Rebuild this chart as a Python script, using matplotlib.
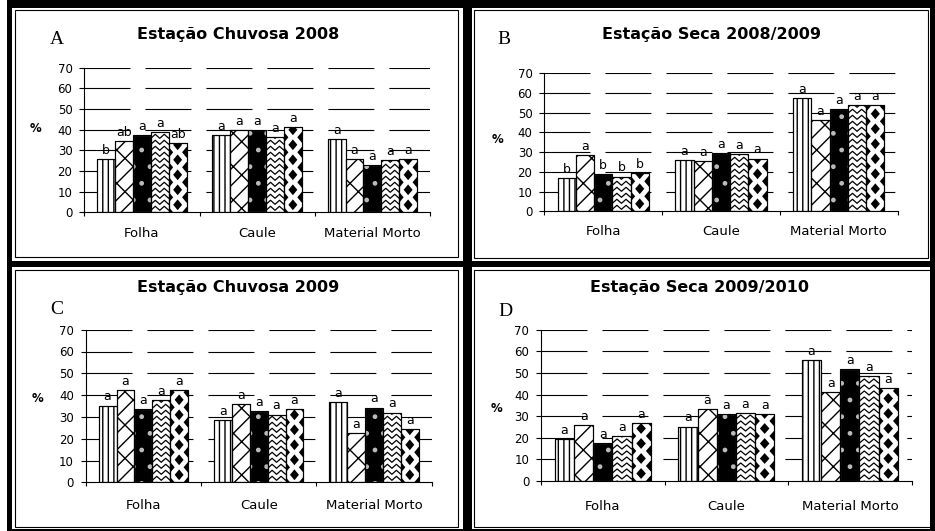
import numpy as np
import matplotlib
matplotlib.use("Agg")
import matplotlib.pyplot as plt
from matplotlib.patches import Rectangle, Polygon
from matplotlib.lines import Line2D

W, H = 935, 531

categorias = ["Folha", "Caule", "Material Morto"]
titulos = ["Estação Chuvosa 2008", "Estação Seca 2008/2009",
           "Estação Chuvosa 2009", "Estação Seca 2009/2010"]
letras_painel = ["A", "B", "C", "D"]

# % de cada componente (Folha, Caule, Material Morto) nos 5 tratamentos
chuvosa_2008 = [[26.0, 34.5, 37.4, 38.7, 33.4],
                [37.6, 39.7, 40.0, 36.5, 41.3],
                [35.3, 25.6, 22.9, 25.2, 25.6]]
seca_2008_09 = [[16.8, 28.3, 18.8, 17.6, 19.3],
                [26.1, 25.5, 29.4, 28.8, 26.7],
                [57.2, 46.0, 51.6, 53.8, 53.8]]
chuvosa_2009 = [[35.2, 42.2, 33.8, 37.8, 42.5],
                [28.5, 35.8, 32.6, 31.1, 33.8],
                [36.7, 22.4, 34.3, 32.0, 24.5]]
seca_2009_10 = [[19.5, 25.7, 17.5, 20.6, 26.7],
                [25.2, 33.5, 30.9, 31.5, 30.9],
                [55.8, 41.2, 51.8, 48.5, 42.9]]

# letras do teste de médias
letras_a = [["b", "ab", "a", "a", "ab"], ["a"] * 5, ["a"] * 5]
letras_b = [["b", "a", "b", "b", "b"], ["a"] * 5, ["a"] * 5]
letras_c = [["a"] * 5, ["a"] * 5, ["a"] * 5]
letras_d = [["a"] * 5, ["a"] * 5, ["a"] * 5]

dados = [chuvosa_2008, seca_2008_09, chuvosa_2009, seca_2009_10]
letras = [letras_a, letras_b, letras_c, letras_d]

# layout em pixels: (esq, topo(y=70), dir, base(y=0))
eixos_px = [(84.3, 67.7, 430.0, 212.3), (544.3, 73.0, 897.7, 211.3),
            (85.7, 329.7, 431.7, 482.3), (541.0, 329.7, 911.7, 481.0)]
titulo_px = [(238, 39), (711, 39), (238, 292), (700, 292)]
letra_px = [(50, 39), (497, 39), (50, 309), (498, 312)]
pct_px = [(36, 128.5), (498, 139), (37, 399), (497, 408)]
pad_cat = [10.9, 10.2, 11.9, 14.0]

plt.rcParams["lines.scale_dashes"] = False
plt.rcParams["hatch.linewidth"] = 1.0

LARG = 0.155


def fx(x):
    return x / W


def fy(y):
    return 1 - y / H


def zigzag(ax, bar):
    x0, y0, x1, y1 = bar.get_window_extent().extents
    passo = (x1 - x0) / 4
    inv = ax.transData.inverted()
    xs = np.arange(x0 - passo, x1 + 2 * passo, passo)
    sinal = np.where(np.arange(len(xs)) % 2 == 0, 2.0, -2.0)
    for yb in np.arange(y0 - 2, y1 + 6, 6.0):
        pts = inv.transform(np.column_stack([xs, yb + sinal]))
        ln = Line2D(pts[:, 0], pts[:, 1], color="black", lw=0.9, zorder=2.1)
        ax.add_line(ln)
        ln.set_clip_path(bar)


def losangos(ax, bar):
    x0, y0, x1, y1 = bar.get_window_extent().extents
    dx = (x1 - x0) / 2
    p = 15.0
    hw, hh = dx * 0.5, p * 0.36
    inv = ax.transData.inverted()
    for i in range(3):
        cx = x0 + i * dx
        off = (i % 2) * p / 2
        for cy in np.arange(y0 + off, y1 + p, p):
            verts = [(cx - hw, cy), (cx, cy + hh), (cx + hw, cy), (cx, cy - hh)]
            poly = Polygon(inv.transform(verts), closed=True, fc="black",
                           ec="none", zorder=2.1)
            ax.add_patch(poly)
            poly.set_clip_path(bar)


fig = plt.figure(figsize=(W / 100, H / 100), dpi=100)
fig.patch.set_facecolor("white")

x = np.arange(len(categorias))
for k in range(4):
    l, t, r, b = eixos_px[k]
    ax = fig.add_axes([fx(l), fy(b), (r - l) / W, (b - t) / H])
    ax.set_xlim(-0.5, 2.5)
    ax.set_ylim(0, 70)
    ax.set_facecolor("none")
    for s in ("top", "right"):
        ax.spines[s].set_visible(False)
    for s in ("left", "bottom"):
        ax.spines[s].set_linewidth(0.8)
    ax.set_yticks(range(0, 80, 10))
    ax.tick_params(axis="y", labelsize=8.5, length=3.5, width=0.8, pad=5)
    ax.set_xticks(x)
    ax.set_xticklabels(categorias, fontsize=9.5)
    ax.tick_params(axis="x", which="major", length=0, pad=pad_cat[k])
    ax.set_xticks([-0.5, 0.5, 1.5, 2.5], minor=True)
    ax.tick_params(axis="x", which="minor", length=3, width=0.8)
    ax.hlines(range(10, 80, 10), -0.5, 2.5, colors="black", linewidth=0.8,
              linestyles=(0, (33.1, 10.8)), zorder=1)

    vals = np.array(dados[k])  # categorias x tratamentos
    for j in range(5):
        xs = x + (j - 2) * LARG
        if j == 0:
            bars = ax.bar(xs, vals[:, j], LARG, color="white", edgecolor="black",
                          hatch="|||", linewidth=0.8, zorder=2)
        elif j == 1:
            bars = ax.bar(xs, vals[:, j], LARG, color="white", edgecolor="black",
                          hatch="//\\", linewidth=0.8, zorder=2)
        elif j == 2:
            bars = ax.bar(xs, vals[:, j], LARG, color="black", edgecolor="#bbbbbb",
                          hatch=".", linewidth=0.8, zorder=2)
        else:
            bars = ax.bar(xs, vals[:, j], LARG, color="white", edgecolor="black",
                          linewidth=0.8, zorder=2)
            for bar in bars:
                if j == 3:
                    zigzag(ax, bar)
                else:
                    losangos(ax, bar)
        ax.bar(xs, vals[:, j], LARG, fill=False, edgecolor="black",
               linewidth=0.8, zorder=3)
        for i, bar in enumerate(bars):
            ax.annotate(letras[k][i][j], (xs[i], vals[i, j]), xytext=(0, 1.5),
                        textcoords="offset points", ha="center", va="bottom",
                        fontsize=9, zorder=4)

    fig.text(fx(titulo_px[k][0]), fy(titulo_px[k][1]), titulos[k], ha="center",
             va="baseline", fontsize=11.5, fontweight="bold")
    fig.text(fx(letra_px[k][0]), fy(letra_px[k][1]), letras_painel[k], ha="left",
             va="center", fontsize=14, family="Liberation Serif")
    fig.text(fx(pct_px[k][0]), fy(pct_px[k][1]), "%", ha="center", va="center",
             fontsize=8.5, fontweight="bold")

# molduras pretas grossas entre os painéis
faixas = [(7, 0, 935, 8), (7, 0, 12, 531), (463, 0, 472, 531), (930, 0, 935, 531),
          (7, 261, 935, 267), (7, 529, 935, 531)]
for x0, y0, x1, y1 in faixas:
    fig.add_artist(Rectangle((fx(x0), fy(y1)), (x1 - x0) / W, (y1 - y0) / H,
                             facecolor="black", edgecolor="none"))
# contorno fino de cada quadro
caixas = [(15, 10, 458, 257), (474, 10, 928, 258), (15, 270, 458, 527), (474, 270, 931, 527)]
for x0, y0, x1, y1 in caixas:
    fig.add_artist(Rectangle((fx(x0), fy(y1)), (x1 - x0) / W, (y1 - y0) / H,
                             facecolor="none", edgecolor="black", linewidth=0.8))

fig.savefig("out.png", dpi=100, facecolor="white")
